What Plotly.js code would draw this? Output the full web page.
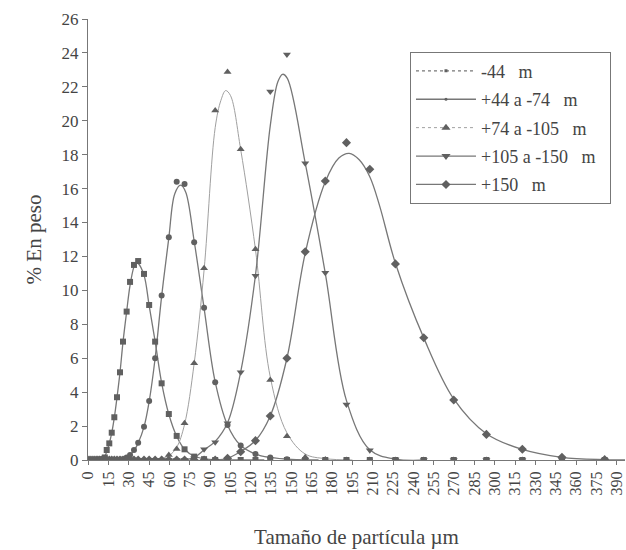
<!DOCTYPE html>
<html>
<head>
<meta charset="utf-8">
<script src="https://cdn.plot.ly/plotly-3.0.1.min.js"></script>
<style>html,body{margin:0;padding:0;background:#fff;}#chart{width:626px;height:550px;}</style>
</head>
<body>
<div id="chart"></div>
<script>
// Particle sizes (µm) of the measured points
const sizes = [0,1.5,3,4.5,6,7.3,8.6,9.8,11,12.4,
  13.8,15.7,17.5,19.4,21.4,23.6,25.8,28.5,31,33.9,
  37,41.3,45.1,49.5,54.3,59.6,65.4,71.2,78.3,85.6,
  93.8,102.9,112.6,123.5,134.4,146.7,160.2,175,190.6,207.8,
  226.7,247.6,269.7,293.8,320.3,349.5,381];

const seriesNames = ["-44\u00a0\u00a0\u00a0m", "+44 a -74\u00a0\u00a0\u00a0m", "+74 a -105\u00a0\u00a0\u00a0m", "+105 a -150\u00a0\u00a0\u00a0m\u00a0\u00a0", "+150\u00a0\u00a0\u00a0m"];

// Measured % by weight
const s1 = [0,0,0,0,0,0,0,0,0.03,0.15,
  0.59,0.98,1.61,2.52,3.70,5.17,6.98,8.75,10.5,11.5,
  11.73,10.97,9.14,6.98,4.52,2.71,1.42,0.63,0.2,0.05,
  0,0,0,0,0,0,0,0,0,0,
  0,0,0,0,0,0,0];
const s2 = [0,0,0,0,0,0,0,0,0,0,
  0,0,0,0,0.02,0.03,0.05,0.15,0.29,0.59,
  1.02,1.96,3.48,6.0,9.7,13.13,16.41,16.27,12.84,8.98,
  4.58,2.06,0.85,0.35,0.15,0.05,0,0,0,0,
  0,0,0,0,0,0,0];
const s3 = [0,0,0,0,0,0,0,0,0,0,
  0,0,0,0,0,0,0,0,0,0,
  0,0,0,0,0.05,0.3,0.65,2.16,5.7,11.3,
  20.6,22.88,18.32,12.42,4.72,1.4,0.16,0.03,0,0,
  0,0,0,0,0,0,0];
const s4 = [0,0,0,0,0,0,0,0,0,0,
  0,0,0,0,0,0,0,0,0,0,
  0,0,0,0,0,0,0,0,0.1,0.63,
  1.05,2.16,5.17,10.87,21.72,23.9,17.5,11.04,3.27,0.57,
  0.03,0,0,0,0,0,0];
const s5 = [0,0,0,0,0,0,0,0,0,0,
  0,0,0,0,0,0,0,0,0,0,
  0,0,0,0,0,0,0,0,0,0,
  0,0.1,0.49,1.14,2.59,6.0,12.28,16.45,18.71,17.14,
  11.56,7.21,3.54,1.51,0.63,0.16,0.02];

// Fitted curves
const fit1X = [8,12,13.8,15.7,17.5,19.4,21.4,23.6,25.8,28.5,31,33.9,35.5,37,41.3,45.1,49.5,54.3,59.6,65.4,71.2,78.3,88,100,130];
const fit1Y = [0,0.15,0.5,0.98,1.6,2.5,3.7,5.17,6.95,8.75,10.3,11.4,11.67,11.6,10.9,9.1,7.0,4.55,2.7,1.4,0.63,0.22,0.05,0.01,0];
const fit2X = [20,28.5,33.9,37,41.3,45.1,49.5,54.3,59.6,64,68.3,72,78.3,85.6,93.8,102.9,112.6,123.5,134.4,150,170];
const fit2Y = [0,0.15,0.55,1.0,1.95,3.45,6.0,9.65,13.1,15.7,16.2,15.8,12.9,8.95,4.6,2.05,0.85,0.35,0.15,0.03,0];
const fit3X = [50,59.6,65.4,71.2,78.3,85.6,93.8,98,101.5,105,112.6,123.5,134.4,146.7,160.2,175,195];
const fit3Y = [0,0.25,0.75,2.1,5.7,11.2,19.6,21.2,21.78,21.5,18.3,12.4,4.9,1.6,0.35,0.08,0];
const fit4X = [70,78.3,85.6,93.8,102.9,112.6,123.5,134.4,140,143.5,147,160.2,175,190.6,207.8,226.7,250];
const fit4Y = [0,0.15,0.6,1.1,2.2,5.2,10.9,19.7,22.3,22.74,22.5,17.5,11.0,3.5,0.6,0.05,0];
const fit5X = [95,102.9,112.6,123.5,134.4,146.7,160.2,175,185,192.6,200,207.8,215,226.7,247.6,269.7,293.8,320.3,349.5,381,398];
const fit5Y = [0,0.1,0.5,1.15,2.6,6.0,12.2,16.4,17.8,18.08,17.7,16.7,15.0,11.6,7.2,3.6,1.55,0.62,0.16,0.02,0];

const xTicks = [0,15,30,45,60,75,90,105,120,135,150,165,180,195,210,225,240,255,270,285,300,315,330,345,360,375,390];
const yTicks = [0,2,4,6,8,10,12,14,16,18,20,22,24,26];

const values = [s1,s2,s3,s4,s5];
const fitsX = [fit1X,fit2X,fit3X,fit4X,fit5X];
const fitsY = [fit1Y,fit2Y,fit3Y,fit4Y,fit5Y];
const lineColors = ['#777777','#777777','#a0a0a0','#777777','#777777'];
const lineWidths = [1.3,1.3,1,1.3,1.3];
const lineDash = ['dot','solid','dot','solid','solid'];
const symbols = ['square','circle','triangle-up','triangle-down','diamond'];
const mSizes = [6,6,7,7,7];
const legSizes = [3,3,8,8,7];

const traces = [];
for (let i = 0; i < 5; i++) {
  traces.push({x: fitsX[i], y: fitsY[i], mode: 'lines', type: 'scatter',
    line: {color: lineColors[i], width: lineWidths[i], shape: 'spline', smoothing: 1},
    showlegend: false, legendgroup: 'g'+i, hoverinfo: 'skip'});
}
for (let i = 0; i < 5; i++) {
  traces.push({x: sizes, y: values[i], mode: 'markers', type: 'scatter',
    marker: {symbol: symbols[i], size: mSizes[i], color: '#606060', line: {width: 0}},
    showlegend: false, legendgroup: 'g'+i});
}
for (let i = 0; i < 5; i++) {
  traces.push({x: [null], y: [null], mode: 'lines+markers', type: 'scatter', name: seriesNames[i],
    line: {color: lineColors[i], width: lineWidths[i], dash: lineDash[i]},
    marker: {symbol: symbols[i], size: legSizes[i], color: '#606060'},
    legendgroup: 'g'+i});
}

const font = '"Liberation Serif", "Times New Roman", serif';
const layout = {
  width: 626, height: 550,
  margin: {l: 88, r: 1, t: 19, b: 90},
  paper_bgcolor: '#ffffff', plot_bgcolor: '#ffffff',
  font: {family: font, color: '#444', size: 16},
  showlegend: true,
  legend: {x: 0.5996, y: 0.926, xanchor: 'left', yanchor: 'top',
    bgcolor: '#ffffff', bordercolor: '#777', borderwidth: 1,
    font: {family: font, size: 18, color: '#444'},
    traceorder: 'grouped', tracegroupgap: 2, itemwidth: 60},
  xaxis: {range: [0, 396], tickmode: 'array', tickvals: xTicks, ticktext: xTicks.map(String),
    tickangle: -90, ticks: 'outside', ticklen: 4, tickcolor: '#777',
    showline: true, linecolor: '#777', linewidth: 1, showgrid: false, zeroline: false,
    tickfont: {family: font, size: 16, color: '#444'},
    title: {text: 'Tamaño de partícula µm', font: {family: font, size: 21, color: '#444'}, standoff: 34}},
  yaxis: {range: [0, 26], tickmode: 'array', tickvals: yTicks,
    ticks: 'outside', ticklen: 5, tickcolor: '#777',
    showline: true, linecolor: '#777', linewidth: 1, showgrid: false, zeroline: false,
    tickfont: {family: font, size: 17, color: '#444'},
    title: {text: '% En peso', font: {family: font, size: 21, color: '#444'}, standoff: 14}}
};

Plotly.newPlot('chart', traces, layout, {displayModeBar: false, staticPlot: true});
</script>
</body>
</html>
